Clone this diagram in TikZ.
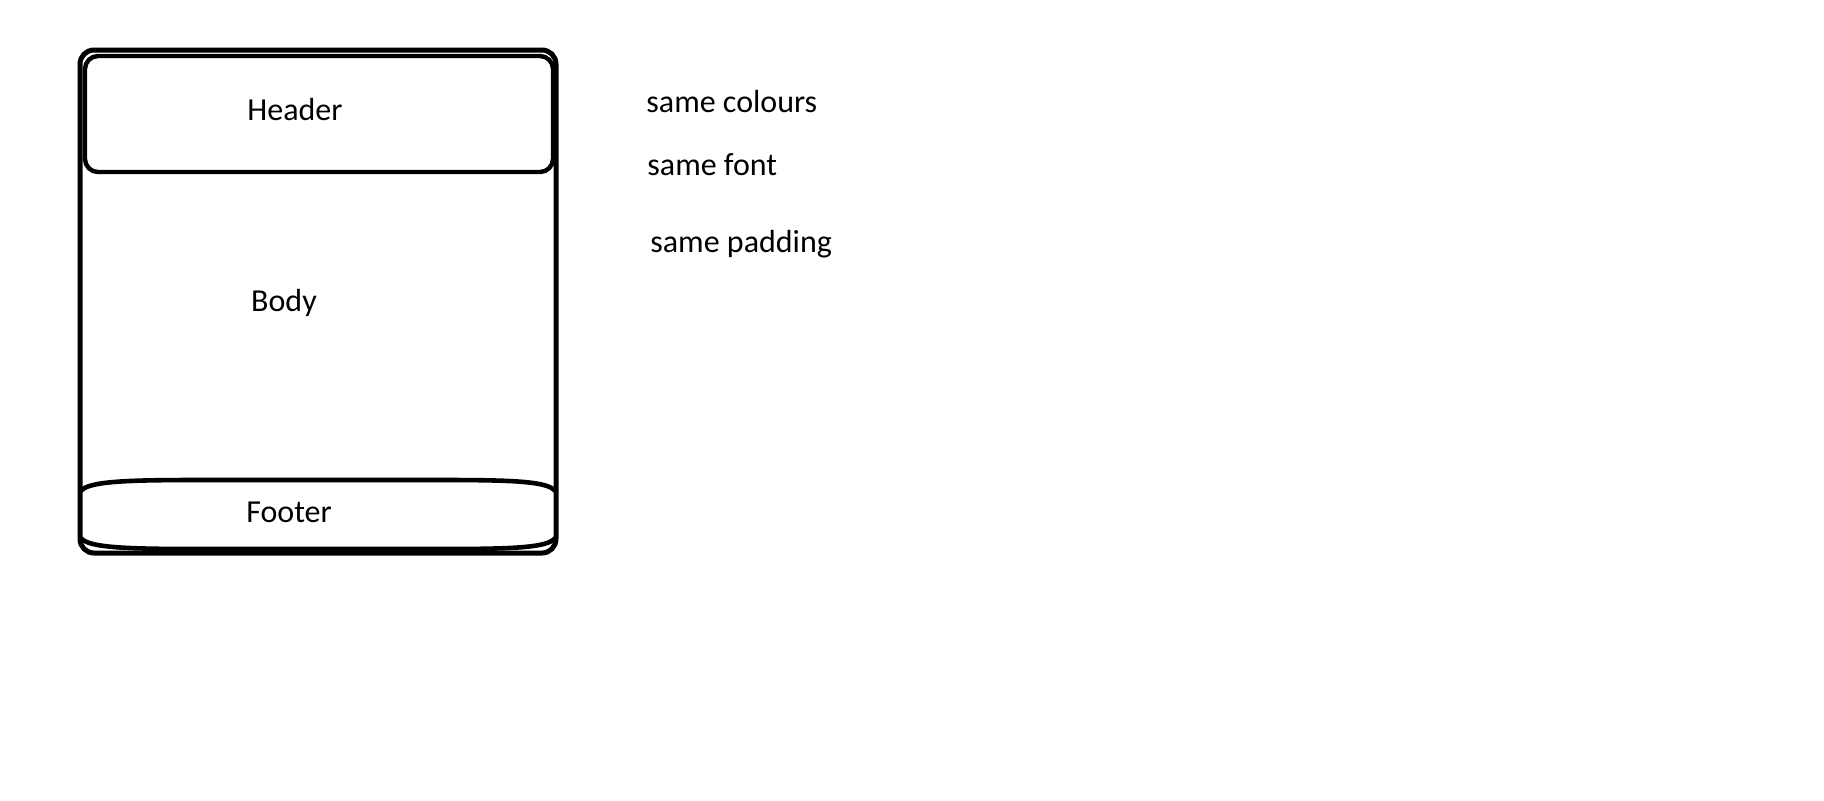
\documentclass[tikz,border=0pt]{standalone}
\usepackage{fontspec}
\setmainfont{Carlito}
\begin{document}
\begin{tikzpicture}[x=0.5pt,y=-0.5pt,
  outerbox/.style={draw=black,line width=2.5pt,rounded corners=7pt,minimum width=238pt,minimum height=251.5pt,inner sep=0pt},
  headbox/.style={draw=black,line width=2.2pt,rounded corners=6.5pt,minimum width=234pt,minimum height=58pt,inner sep=0pt},
  lbl/.style={font=\fontsize{16pt}{19pt}\selectfont,inner sep=0pt},
  footline/.style={draw=black,line width=2.3pt}]
\useasboundingbox[fill=white] (0,0) rectangle (1824,800);
\node[outerbox] (card) at (318,301.5) {};
\node[headbox] (header) at (319,114) {};
\node[lbl,anchor=base] (htext) at (295,120) {Header};
\node[lbl,anchor=base] (btext) at (284,311) {Body};
\node[lbl,anchor=base] (ftext) at (289,522) {Footer};
\coordinate (fl1) at (81,491);
\coordinate (fr1) at (555,491);
\coordinate (fl2) at (81,538);
\coordinate (fr2) at (555,538);
\draw[footline] (fl1) .. controls (88,481) and (130,480) .. (200,480) -- (440,480) .. controls (510,480) and (548,481) .. (fr1);
\draw[footline] (fl2) .. controls (88,548) and (130,549) .. (200,549) -- (440,549) .. controls (510,549) and (548,548) .. (fr2);
\node[lbl,anchor=base west] (n1) at (646,112) {same colours};
\node[lbl,anchor=base west] (n2) at (647,175) {same font};
\node[lbl,anchor=base west] (n3) at (650,252) {same padding};
\end{tikzpicture}
\end{document}
